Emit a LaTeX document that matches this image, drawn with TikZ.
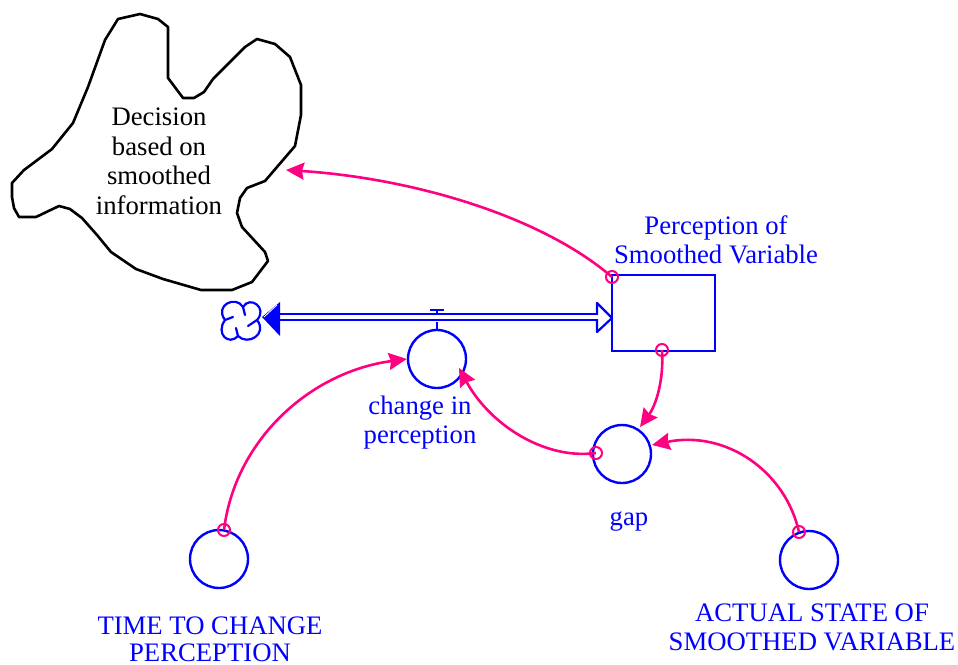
\documentclass[tikz,border=0pt]{standalone}
\usepackage{fontspec}
\setmainfont{Liberation Serif}
\usetikzlibrary{arrows.meta}
\definecolor{flowblue}{RGB}{0,0,255}
\definecolor{linkpink}{RGB}{255,0,128}
\tikzset{
  varnode/.style={circle,draw=flowblue,line width=2.4pt,minimum size=58pt,inner sep=0pt},
  stockbox/.style={rectangle,draw=flowblue,line width=2.4pt,minimum width=103pt,minimum height=76pt,inner sep=0pt},
  origin/.style={circle,draw=linkpink,line width=2pt,minimum size=12pt,inner sep=0pt},
  link/.style={draw=linkpink,line width=2.6pt,-{Stealth[length=18pt,width=17pt,inset=2pt]}},
  pipe/.style={draw=flowblue,line width=2.2pt,double=white,double distance=3.8pt},
  bluelabel/.style={text=flowblue,align=center,inner sep=0pt,font=\fontsize{26.7}{29}\selectfont},
  blacklabel/.style={text=black,align=center,inner sep=0pt,font=\fontsize{26.7}{29.5}\selectfont},
}
\begin{document}
\begin{tikzpicture}[x=1pt,y=-1pt]
\useasboundingbox (0,0) rectangle (958,664);
% decision cloud
\draw[black,line width=2.6pt,line join=round] (118,19) -- (140,14) -- (158,19) -- (168,27) -- (168,78) -- (183,98) -- (194,98) -- (204,92) -- (213,79) -- (245,47) -- (257,39) -- (275,44) -- (290,57) -- (301,85) -- (301,115) -- (295,146) -- (265,181) -- (247,188) -- (240,198) -- (237,213) -- (242,227) -- (265,252) -- (268,261) -- (252,282) -- (232,290) -- (201,290) -- (163,279) -- (136,269) -- (111,252) -- (97,235) -- (82,218) -- (70,209) -- (59,206) -- (36,217) -- (19,217) -- (14,208) -- (12,197) -- (12,183) -- (24,170) -- (52,149) -- (73,123) -- (88,87) -- (105,40) -- cycle;
\node[blacklabel] (decision) at (159,161.5) {Decision\\based on\\smoothed\\information};
% stock, variables
\node[stockbox] (stock) at (663.5,313) {};
\node[varnode] (change) at (437,359) {};
\node[varnode] (gap) at (622,454) {};
\node[varnode] (timevar) at (219,559) {};
\node[varnode] (actual) at (809,560) {};
\node[bluelabel] (stocklabel) at (716,240) {Perception of\\Smoothed Variable};
\node[bluelabel] (changelabel) at (420,423) {change in\\perception};
\node[bluelabel] (gaplabel) at (629,522) {gap};
\node[bluelabel] (timelabel) at (210,639) {TIME TO CHANGE\\[-2pt]PERCEPTION};
\node[bluelabel] (actuallabel) at (812,627.5) {ACTUAL STATE OF\\SMOOTHED VARIABLE};
% pipe with valve
\coordinate (pipeleft) at (275,317);
\coordinate (piperight) at (598,317);
\draw[pipe] (pipeleft) -- (piperight);
\draw[flowblue,line width=2.2pt,fill=white,line join=round] (597,303) -- (612,318) -- (597,332) -- cycle;
\fill[white] (594,315.2) rectangle (598.5,318.8);
\fill[flowblue] (262,317) -- (280,302) -- (280,336) -- cycle;
\draw[white,line width=0.8pt] (264,317) -- (277,305);
\draw[flowblue,line width=2.2pt] (430,310) -- (444,310) (437,310) -- (437,314) (437,322) -- (change.north);
% source cloud
\coordinate (lobeW) at (225,320);
\coordinate (lobeN) at (243,307);
\coordinate (lobeE) at (257,320);
\coordinate (lobeS) at (238,336);
\draw[flowblue,line width=2.2pt,line cap=round]
  (lobeW) .. controls (214,305) and (236,295) .. (lobeN)
  .. controls (250,295) and (268,308) .. (lobeE)
  .. controls (268,334) and (248,346) .. (lobeS)
  .. controls (229,346) and (215,334) .. (lobeW);
\draw[flowblue,line width=2.2pt,line cap=round] (lobeW) -- (233,317) (lobeN) -- (245,315) (lobeE) -- (248,326) (lobeS) -- (236,328);
% links
\node[origin] (o1) at (224,530) {};
\node[origin] (o2) at (612,277) {};
\node[origin] (o3) at (662,350) {};
\node[origin] (o4) at (596,453) {};
\node[origin] (o5) at (799,532) {};
\coordinate (cloudin) at (286,170);
\draw[link] (o1.center) .. controls (235,440) and (310,372) .. (change.west);
\draw[link] (o2.center) .. controls (540,215) and (410,178) .. (cloudin);
\draw[link] (o3.center) .. controls (664,380) and (656,405) .. (640,427);
\draw[link] (o4.center) .. controls (545,460) and (490,425) .. (459,368);
\draw[link] (o5.center) .. controls (785,470) and (725,430) .. (652,445);
\end{tikzpicture}
\end{document}
